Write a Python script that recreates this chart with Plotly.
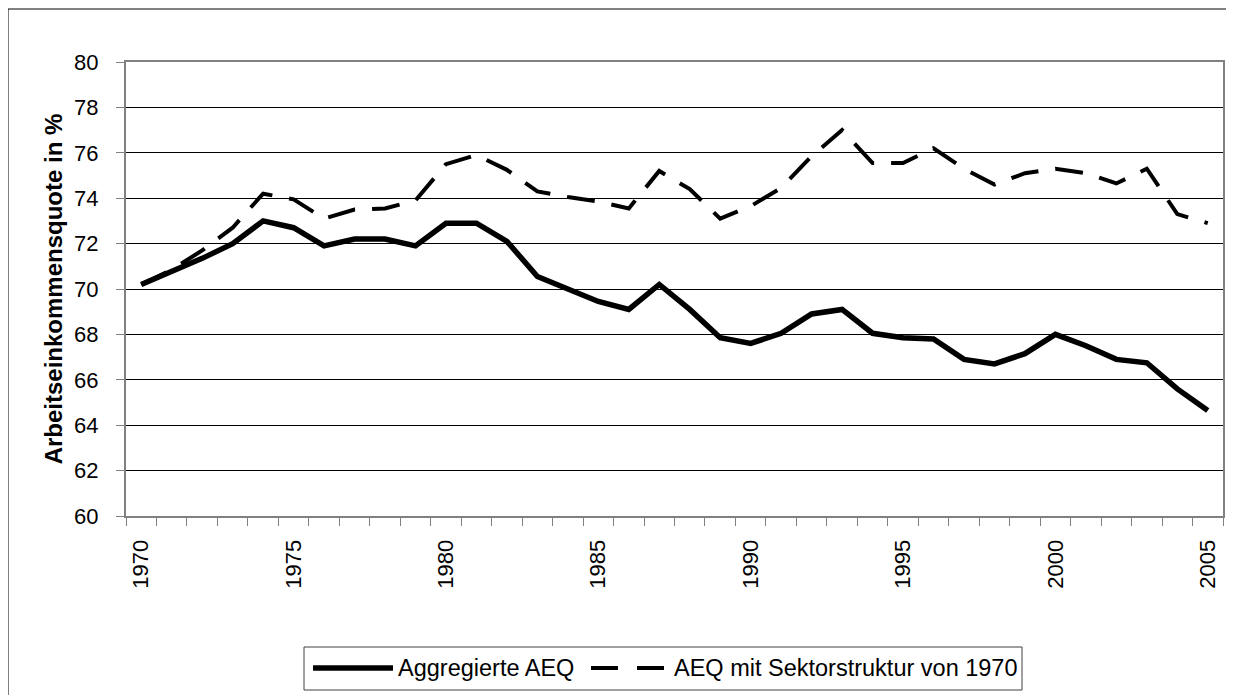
import plotly.graph_objects as go

years = list(range(1970, 2006))
aggregiert = [70.2, 70.75, 71.35, 72.0, 73.0, 72.7, 71.9, 72.2, 72.2, 71.9,
              72.9, 72.9, 72.1, 70.55, 70.0, 69.45, 69.1, 70.2, 69.1, 67.85,
              67.6, 68.05, 68.9, 69.1, 68.05, 67.85, 67.8, 66.9, 66.7, 67.15,
              68.0, 67.5, 66.9, 66.75, 65.6, 64.65]
sektor1970 = [70.2, 70.85, 71.7, 72.7, 74.2, 73.95, 73.1, 73.5, 73.55, 73.9,
              75.5, 75.9, 75.25, 74.3, 74.05, 73.85, 73.55, 75.2, 74.4, 73.1,
              73.65, 74.45, 75.85, 77.0, 75.55, 75.55, 76.2, 75.3, 74.6, 75.1,
              75.3, 75.1, 74.65, 75.3, 73.3, 72.9]
series_names = ["Aggregierte AEQ", "AEQ mit Sektorstruktur von 1970"]
x_labels = [1970, 1975, 1980, 1985, 1990, 1995, 2000, 2005]
y_ticks = list(range(60, 81, 2))

FONT = "Liberation Sans, Arial, sans-serif"
W, H = 1234, 695
OFF = 8  # page body margin offset
L, R, T, B = 118, 19, 54, 187
pw, ph = W - L - R, H - T - B


def px(sx):
    return (sx - OFF - L) / pw


def py(sy):
    return (H - B - (sy - OFF)) / ph


fig = go.Figure()
fig.add_trace(go.Scatter(x=years, y=aggregiert, mode="lines", name=series_names[0],
                         line=dict(color="black", width=5.5), showlegend=False))
fig.add_trace(go.Scatter(x=years, y=sektor1970, mode="lines", name=series_names[1],
                         line=dict(color="black", width=4, dash="28px,17px"), showlegend=False))

shapes = [
    # outer chart border
    dict(type="rect", xref="paper", yref="paper", x0=px(8), x1=px(1260), y0=py(720), y1=py(9),
         line=dict(color="black", width=1), layer="below"),
    # legend box
    dict(type="rect", xref="paper", yref="paper", x0=px(304), x1=px(1022), y0=py(690), y1=py(647),
         line=dict(color="#404040", width=1), fillcolor="white"),
    # legend samples
    dict(type="line", xref="paper", yref="paper", x0=px(313), x1=px(393), y0=py(668), y1=py(668),
         line=dict(color="black", width=5.5)),
    dict(type="line", xref="paper", yref="paper", x0=px(591), x1=px(664), y0=py(668), y1=py(668),
         line=dict(color="black", width=4, dash="27px,19px")),
]
annotations = [
    dict(xref="paper", yref="paper", x=px(396), y=py(668), text=series_names[0], showarrow=False,
         xanchor="left", yanchor="middle", font=dict(family=FONT, size=23.5, color="black")),
    dict(xref="paper", yref="paper", x=px(672), y=py(668), text=series_names[1], showarrow=False,
         xanchor="left", yanchor="middle", font=dict(family=FONT, size=23.5, color="black")),
]

fig.update_layout(
    width=W, height=H,
    margin=dict(l=L, r=R, t=T, b=B, autoexpand=False),
    paper_bgcolor="white", plot_bgcolor="white",
    font=dict(family=FONT, size=22, color="black"),
    shapes=shapes, annotations=annotations,
    showlegend=False,
)
fig.update_xaxes(
    range=[1969.5, 2005.5], automargin=False,
    tickmode="array", tickvals=x_labels, ticktext=[str(v) for v in x_labels],
    tickangle=-90, ticks="", showgrid=False,
    minor=dict(tickmode="linear", tick0=1969.5, dtick=1, ticks="outside", ticklen=8,
               tickcolor="#808080", tickwidth=1, showgrid=False),
    showline=True, linecolor="#808080", linewidth=2, mirror=True,
    tickfont=dict(family=FONT, size=22, color="black"),
    ticklabelstandoff=13,
    zeroline=False,
)
fig.update_yaxes(
    range=[60, 80], tickmode="array", tickvals=y_ticks, automargin=False,
    ticks="outside", ticklen=8, tickcolor="#808080", tickwidth=1,
    showgrid=True, gridcolor="black", gridwidth=1,
    showline=True, linecolor="#808080", linewidth=2, mirror=True,
    tickfont=dict(family=FONT, size=22, color="black"),
    ticklabelstandoff=13,
    title=dict(text="<b>Arbeitseinkommensquote in %</b>", standoff=5,
               font=dict(family=FONT, size=24, color="black")),
    zeroline=False,
)

fig.write_html("out.html")
